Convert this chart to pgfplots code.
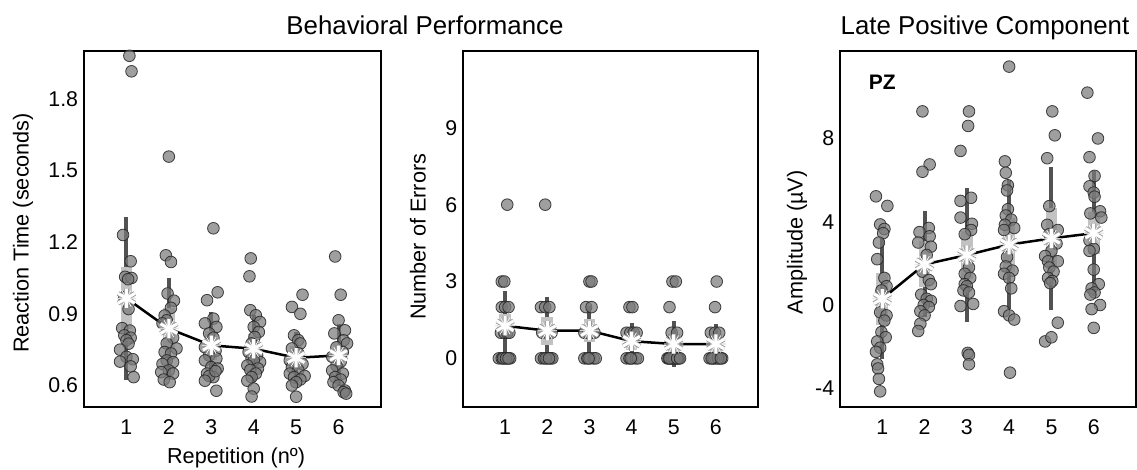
\documentclass[border=0pt]{standalone}
\usepackage{fontspec}
\setmainfont{Liberation Sans}
\usepackage{pgfplots}
\usepackage{pgfplotstable}
\pgfplotsset{compat=1.18}

% group means, SD (dark bar) and CI (light bar)
\pgfplotstableread{
x m sd ci
1 0.965 0.34 0.13
2 0.838 0.21 0.085
3 0.768 0.14 0.06
4 0.754 0.14 0.06
5 0.716 0.11 0.05
6 0.726 0.13 0.055
}\rtmeans
\pgfplotstableread{
x m sd ci
1 1.27 1.35 0.45
2 1.08 1.32 0.55
3 1.08 0.95 0.45
4 0.67 0.70 0.35
5 0.56 0.90 0.40
6 0.56 0.80 0.40
}\errmeans
\pgfplotstableread{
x m sd ci
1 0.30 2.90 1.25
2 1.95 2.55 1.10
3 2.40 3.20 1.15
4 2.90 3.10 1.30
5 3.20 3.45 1.45
6 3.45 3.00 1.00
}\lpcmeans

\pgfplotsset{
  panel/.style={
    scale only axis, width=178pt, height=213.6pt,
    xmin=0, xmax=7, xtick={1,...,6},
    axis line style={line width=1.1pt},
    major tick length=0pt,
    tick label style={font=\fontsize{12.8}{12.8}\selectfont},
    xticklabel style={yshift=-4pt},
    label style={font=\fontsize{13}{13}\selectfont},
    /pgf/number format/assume math mode=true,
  },
  subj/.style={only marks, mark=*, mark size=3.5pt,
    mark options={fill=black!52, fill opacity=0.72, draw=black!85, draw opacity=0.85, line width=0.5pt}},
  sdbar/.style={only marks, mark=none,
    error bars/.cd, y dir=both, y explicit, error mark=none,
    error bar style={line width=2.4pt, color=black!68}},
  cibar/.style={only marks, mark=none,
    error bars/.cd, y dir=both, y explicit, error mark=none,
    error bar style={line width=7pt, color=black!24}},
  meanline/.style={black, line width=1.5pt, mark=none},
  star/.style={only marks, mark=asterisk, mark size=5.8pt,
    mark options={line width=#1}},
}

\newcommand{\summary}[1]{%
  \addplot[sdbar] table[x=x, y=m, y error=sd] {#1};
  \addplot[cibar] table[x=x, y=m, y error=ci] {#1};
}
\newcommand{\means}[1]{%
  \addplot[meanline] table[x=x, y=m] {#1};
  \addplot[star=2.9pt, black!40] table[x=x, y=m] {#1};
  \addplot[star=2.9pt, black!40, mark options={rotate=90}] table[x=x, y=m] {#1};
  \addplot[star=1.8pt, white] table[x=x, y=m] {#1};
  \addplot[star=1.8pt, white, mark options={rotate=90}] table[x=x, y=m] {#1};
}

\begin{document}
\begin{tikzpicture}

% ---- reaction time
\begin{axis}[panel, at={(50.4pt,-30.6pt)}, anchor=north west, width=178.2pt,
  ymin=0.51, ymax=2.0, ytick={0.6,0.9,1.2,1.5,1.8},
  yticklabel style={/pgf/number format/.cd, fixed, fixed zerofill, precision=1},
  ylabel={Reaction Time (seconds)},
  ylabel style={at={(axis description cs:-0.205,0.489)}, anchor=center},
  xlabel={Repetition (nº)},
  xlabel style={at={(axis description cs:0.512,-0.143)}, anchor=center}]
\summary{\rtmeans}
\addplot[subj] coordinates {
 (1.07,1.98) (1.12,1.915) (0.92,1.23) (1.10,1.12) (0.97,1.055) (1.12,1.05) (1.04,1.045)
 (0.95,0.97) (1.05,0.92) (0.90,0.84) (1.08,0.83) (0.95,0.81) (1.10,0.80) (1.00,0.79)
 (1.05,0.775) (0.85,0.75) (1.00,0.72) (1.15,0.71) (0.85,0.70) (1.10,0.68) (1.17,0.635)
 (2.00,1.558) (1.93,1.145) (2.05,1.117) (1.97,0.985) (2.12,0.955) (2.05,0.925) (1.90,0.893)
 (1.95,0.873) (1.85,0.86) (2.10,0.80) (1.95,0.776) (2.18,0.755) (1.90,0.74) (2.05,0.734)
 (1.95,0.705) (2.10,0.698) (1.85,0.69) (2.00,0.663) (1.82,0.656) (2.10,0.65) (1.88,0.625) (2.02,0.614)
 (3.05,1.258) (3.15,0.99) (2.90,0.957) (3.05,0.88) (2.85,0.86) (3.12,0.845) (2.95,0.818)
 (3.05,0.80) (2.85,0.76) (3.10,0.745) (2.95,0.726) (3.12,0.713) (2.85,0.705) (3.00,0.677)
 (3.15,0.671) (2.90,0.65) (3.05,0.635) (2.95,0.64) (3.10,0.66) (2.85,0.62) (3.12,0.578)
 (3.93,1.132) (3.90,1.057) (3.92,0.915) (4.05,0.894) (4.15,0.866) (4.00,0.845) (4.12,0.824)
 (4.02,0.803) (3.95,0.776) (3.88,0.74) (4.08,0.726) (3.95,0.713) (4.15,0.698) (4.00,0.705)
 (3.85,0.684) (4.10,0.671) (3.92,0.665) (4.05,0.65) (3.95,0.635) (3.85,0.62) (4.00,0.587) (3.95,0.554)
 (5.15,0.98) (4.90,0.929) (5.10,0.90) (4.95,0.81) (5.05,0.79) (5.10,0.776) (4.90,0.755)
 (5.05,0.735) (4.85,0.705) (5.15,0.69) (4.90,0.677) (5.05,0.665) (4.85,0.65) (5.20,0.64)
 (4.95,0.635) (5.10,0.625) (5.00,0.614) (4.90,0.60) (5.00,0.553)
 (5.92,1.14) (6.05,0.98) (6.00,0.873) (6.15,0.831) (5.90,0.818) (6.12,0.789) (6.20,0.776)
 (5.95,0.76) (6.10,0.74) (5.85,0.72) (6.05,0.70) (5.95,0.684) (5.85,0.663) (6.10,0.65)
 (5.92,0.635) (6.05,0.625) (5.88,0.614) (6.00,0.60) (6.15,0.579) (6.12,0.572) (6.18,0.566)
};
\means{\rtmeans}
\end{axis}

% ---- number of errors
\begin{axis}[panel, at={(277.8pt,-30.6pt)}, anchor=north west, width=177pt,
  ymin=-1.9, ymax=12, ytick={0,3,6,9},
  ylabel={Number of Errors},
  ylabel style={at={(axis description cs:-0.153,0.478)}, anchor=center}]
\summary{\errmeans}
\addplot[subj] coordinates {
 (1.05,6) (0.92,3) (0.98,3) (0.92,2) (1.00,2) (1.08,2) (0.90,1) (0.98,1) (1.05,1) (1.10,1)
 (0.85,0) (0.92,0) (0.98,0) (1.05,0) (1.12,0) (0.95,0) (1.02,0) (1.08,0)
 (1.95,6) (1.85,2) (1.95,2) (2.05,2) (1.88,1) (2.00,1) (2.10,1)
 (1.85,0) (1.92,0) (2.00,0) (2.08,0) (2.12,0) (1.96,0) (2.04,0)
 (3.00,3) (3.05,3) (2.92,2) (3.05,2) (2.88,1) (2.97,1) (3.05,1) (3.12,1)
 (2.88,0) (2.95,0) (3.02,0) (3.10,0) (3.15,0) (2.98,0)
 (3.95,2) (4.02,2) (3.88,1) (3.97,1) (4.05,1) (4.12,1)
 (3.88,0) (3.95,0) (4.02,0) (4.10,0) (4.15,0) (3.98,0)
 (4.97,3) (5.05,3) (4.90,2) (4.95,1) (5.08,1)
 (4.85,0) (4.92,0) (4.98,0) (5.05,0) (5.12,0) (4.88,0) (4.95,0) (5.02,0) (5.10,0) (5.00,0) (4.90,0) (5.08,0) (5.15,0)
 (6.02,3) (5.98,2) (5.88,1) (5.98,1) (6.08,1)
 (5.85,0) (5.92,0) (6.00,0) (6.08,0) (6.15,0) (5.95,0) (6.05,0) (5.90,0) (6.12,0)
};
\means{\errmeans}
\end{axis}

% ---- late positive component
\begin{axis}[panel, at={(504pt,-30.6pt)}, anchor=north west, width=177.6pt,
  ymin=-4.9, ymax=12.2, ytick={-4,0,4,8},
  ylabel={Amplitude (µV)},
  ylabel style={at={(axis description cs:-0.145,0.463)}, anchor=center}]
\summary{\lpcmeans}
\addplot[subj] coordinates {
 (0.85,5.22) (1.12,4.76) (0.95,3.87) (1.05,3.65) (1.02,3.45) (0.92,3.0) (0.88,2.2) (1.05,1.3)
 (1.10,0.9) (0.98,0.7) (0.95,-0.35) (1.10,-0.5) (1.05,-0.75) (0.98,-1.3) (1.08,-1.55) (0.88,-1.75)
 (0.95,-2.05) (0.85,-2.25) (0.88,-2.85) (0.90,-3.05) (0.92,-3.55) (0.95,-4.15)
 (1.95,9.3) (2.12,6.75) (1.95,6.4) (2.10,3.7) (1.88,3.5) (2.12,3.3) (1.85,3.0) (2.15,2.8)
 (2.05,2.4) (1.95,1.6) (2.10,1.2) (2.15,1.0) (1.92,0.5) (2.05,0.3) (2.15,0.2) (1.98,0.0)
 (2.10,-0.1) (1.90,-0.3) (2.00,-0.5) (1.90,-0.9) (1.85,-1.25)
 (3.05,9.3) (3.03,8.6) (2.85,7.4) (3.10,5.15) (2.85,5.0) (2.85,4.2) (3.12,3.9) (3.10,3.6)
 (2.95,3.4) (3.05,1.8) (2.95,1.5) (3.08,1.3) (2.95,1.0) (3.00,0.9) (2.92,0.7) (3.05,0.6)
 (3.15,0.05) (2.85,-0.05) (3.02,-2.3) (3.05,-2.4) (3.05,-2.85)
 (4.00,11.45) (3.90,6.9) (3.92,6.35) (3.97,5.75) (3.95,5.5) (3.97,4.6) (3.92,4.3) (4.05,4.1)
 (3.90,3.85) (4.12,3.7) (3.88,3.6) (3.95,2.3) (3.92,1.85) (4.08,1.65) (3.88,1.5) (4.00,1.3)
 (4.05,0.8) (3.88,-0.3) (4.00,-0.5) (4.12,-0.7) (4.02,-3.25)
 (5.02,9.3) (5.08,8.15) (4.90,7.05) (4.95,4.75) (4.90,3.85) (5.15,3.6) (4.95,3.4) (5.12,2.95)
 (5.00,2.6) (4.85,2.35) (4.92,2.1) (5.15,2.1) (4.95,1.8) (5.05,1.6) (4.92,1.3) (5.02,1.15)
 (4.97,1.05) (5.15,-0.85) (4.85,-1.75) (5.00,-1.55)
 (5.85,10.2) (6.10,8.0) (5.90,7.1) (6.02,6.2) (5.90,5.7) (6.00,5.4) (6.02,5.2) (6.15,4.5)
 (5.92,4.4) (6.18,4.2) (5.90,3.1) (6.00,2.7) (5.90,2.6) (6.00,1.7) (6.12,1.0) (5.95,0.8)
 (6.02,0.6) (5.92,0.5) (6.15,0.0) (5.95,-0.2) (6.00,-1.1)
};
\means{\lpcmeans}
\node[font=\fontsize{12.6}{12.6}\selectfont\bfseries] at (axis cs:1,10.7) {PZ};
\end{axis}

\node[anchor=base, font=\fontsize{15.5}{15.5}\selectfont] at (255pt,-20.4pt) {Behavioral Performance};
\node[anchor=base, font=\fontsize{15.5}{15.5}\selectfont] at (591pt,-20.4pt) {Late Positive Component};

\pgfresetboundingbox
\useasboundingbox (0,0) rectangle (682.2pt,-281.4pt);
\end{tikzpicture}
\end{document}
